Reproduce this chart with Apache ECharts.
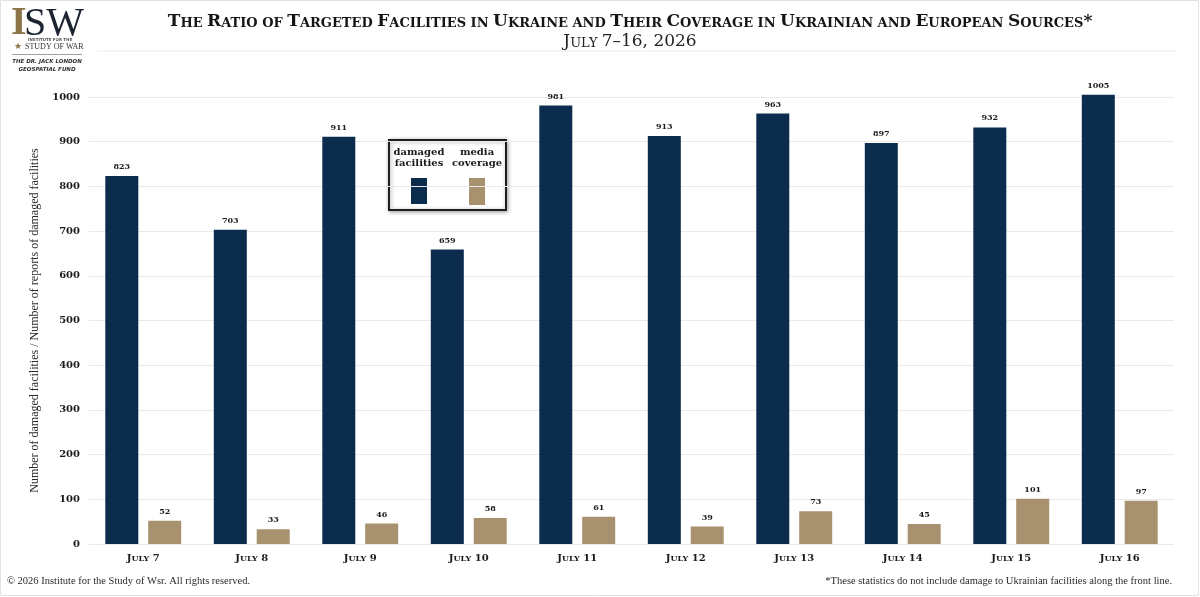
<!DOCTYPE html>
<html>
<head>
<meta charset="utf-8">
<script src="https://cdn.jsdelivr.net/npm/echarts@6/dist/echarts.min.js"></script>
<style>
  html, body { margin: 0; padding: 0; background: #fff; }
  #chart { width: 1200px; height: 597px; }
</style>
</head>
<body>
<div id="chart"></div>
<script>
// data
var days = ['July 7', 'July 8', 'July 9', 'July 10', 'July 11', 'July 12', 'July 13', 'July 14', 'July 15', 'July 16'];
var damagedFacilities = [823, 703, 911, 659, 981, 913, 963, 897, 932, 1005];
var mediaCoverage = [52, 33, 46, 58, 61, 39, 73, 45, 101, 97];
var yTicks = [0, 100, 200, 300, 400, 500, 600, 700, 800, 900, 1000];

var NAVY = '#0c2c4d';
var TAN = '#a8916f';
var SERIF = '"DejaVu Serif", "Liberation Serif", serif';
var TIMES = '"Liberation Serif", serif';

// turn "The Ratio of" into rich-text small caps: capitals big, lower case letters small
function smallCaps(str) {
    var out = '';
    var cur = null, buf = '';
    for (var i = 0; i < str.length; i++) {
        var ch = str[i];
        var kind = (ch >= 'a' && ch <= 'z') ? 's' : (ch === ' ' ? cur || 'b' : 'b');
        if (kind !== cur && buf) {
            out += '{' + cur + '|' + buf + '}';
            buf = '';
        }
        cur = kind;
        buf += kind === 's' ? ch.toUpperCase() : ch;
    }
    if (buf) out += '{' + cur + '|' + buf + '}';
    return out;
}

var chartDom = document.getElementById('chart');
var myChart = echarts.init(chartDom);
var option;

option = {
    backgroundColor: '#fff',
    animation: false,
    title: [
        {
            text: smallCaps('The Ratio of Targeted Facilities in Ukraine and Their Coverage in Ukrainian and European Sources*'),
            left: 625,
            top: 3,
            textAlign: 'center',
            textStyle: {
                rich: {
                    b: { fontFamily: SERIF, fontWeight: 'bold', fontSize: 17, color: '#151515', verticalAlign: 'bottom', lineHeight: 22 },
                    s: { fontFamily: SERIF, fontWeight: 'bold', fontSize: 13, color: '#151515', verticalAlign: 'bottom', lineHeight: 22 }
                }
            }
        },
        {
            text: smallCaps('July 7–16, 2026'),
            left: 625,
            top: 23,
            textAlign: 'center',
            textStyle: {
                rich: {
                    b: { fontFamily: SERIF, fontWeight: 'normal', fontSize: 17, color: '#222', verticalAlign: 'bottom', lineHeight: 22 },
                    s: { fontFamily: SERIF, fontWeight: 'normal', fontSize: 13, color: '#222', verticalAlign: 'bottom', lineHeight: 22 }
                }
            }
        }
    ],
    grid: {
        left: 89,
        right: 26,
        top: 97,
        bottom: 53,
        containLabel: false
    },
    xAxis: {
        type: 'category',
        data: days,
        axisLine: { show: false },
        axisTick: { show: false },
        axisLabel: {
            interval: 0,
            margin: 7,
            formatter: function (v) {
                var num = v.split(' ')[1];
                return '{b|J}{s|ULY}{b| ' + num + '}';
            },
            rich: {
                b: { fontFamily: SERIF, fontWeight: 'bold', fontSize: 10, color: '#1a1a1a', verticalAlign: 'bottom', lineHeight: 12 },
                s: { fontFamily: SERIF, fontWeight: 'bold', fontSize: 8, color: '#1a1a1a', verticalAlign: 'bottom', lineHeight: 12 }
            }
        }
    },
    yAxis: {
        type: 'value',
        min: yTicks[0],
        max: yTicks[yTicks.length - 1],
        interval: 100,
        name: 'Number of damaged facilities / Number of reports of damaged facilities',
        nameLocation: 'middle',
        nameGap: 45,
        nameTextStyle: { fontFamily: TIMES, fontSize: 12, color: '#2a2a2a' },
        axisLine: { show: false },
        axisTick: { show: false },
        axisLabel: {
            margin: 9,
            formatter: function (v) { return String(v); },
            fontFamily: SERIF,
            fontWeight: 'bold',
            fontSize: 10,
            color: '#1a1a1a'
        },
        splitLine: { lineStyle: { color: '#e9e9e9', width: 1 } }
    },
    series: [
        {
            name: 'damaged facilities',
            type: 'bar',
            data: damagedFacilities,
            barWidth: 33,
            barGap: '30%',
            clip: false,
            itemStyle: { color: NAVY },
            label: {
                show: true,
                position: 'top',
                distance: 5,
                fontFamily: SERIF,
                fontWeight: 'bold',
                fontSize: 8,
                color: '#1a1a1a'
            }
        },
        {
            name: 'media coverage',
            type: 'bar',
            data: mediaCoverage,
            barWidth: 33,
            clip: false,
            itemStyle: { color: TAN },
            label: {
                show: true,
                position: 'top',
                distance: 5,
                fontFamily: SERIF,
                fontWeight: 'bold',
                fontSize: 8,
                color: '#1a1a1a'
            }
        }
    ],
    graphic: [
        // frame and header rule
        { type: 'rect', shape: { x: 0.5, y: 0.5, width: 1198, height: 595 }, style: { fill: 'none', stroke: '#e2e2e2', lineWidth: 1 }, silent: true },
        { type: 'line', shape: { x1: 97, y1: 51, x2: 1177, y2: 51 }, style: { stroke: '#ececec', lineWidth: 1 }, silent: true },
        // ISW logo
        { type: 'text', left: 11, top: 4, style: { text: 'I', font: 'bold 40px "Liberation Serif", serif', fill: '#8b7549' } },
        { type: 'text', left: 24, top: 4, style: { text: 'SW', font: '40px "Liberation Serif", serif', fill: '#1c2331' } },
        { type: 'text', left: 28, top: 38, style: { text: 'INSTITUTE FOR THE', font: 'bold 4px "DejaVu Sans", sans-serif', fill: '#555' } },
        { type: 'text', left: 14, top: 42, style: { text: '★', font: '9px "DejaVu Sans", sans-serif', fill: '#8b7549' } },
        { type: 'text', left: 25, top: 43, style: { text: 'STUDY OF WAR', font: '8px "Liberation Serif", serif', fill: '#333' } },
        { type: 'line', shape: { x1: 12, y1: 54.5, x2: 82, y2: 54.5 }, style: { stroke: '#a0a0a0', lineWidth: 1 } },
        { type: 'text', x: 47, y: 59, style: { text: 'THE DR. JACK LONDON', align: 'center', font: 'italic bold 5.5px "DejaVu Sans", sans-serif', fill: '#333' } },
        { type: 'text', x: 47, y: 67, style: { text: 'GEOSPATIAL FUND', align: 'center', font: 'italic bold 5.5px "DejaVu Sans", sans-serif', fill: '#333' } },
        // legend box
        {
            type: 'rect',
            shape: { x: 389, y: 140, width: 117, height: 70 },
            style: { fill: '#fff', stroke: '#1e1e1e', lineWidth: 2, shadowBlur: 4, shadowColor: 'rgba(0,0,0,0.35)', shadowOffsetX: 1, shadowOffsetY: 1 }
        },
        { type: 'text', x: 419, y: 147, style: { text: 'damaged\nfacilities', align: 'center', lineHeight: 11, font: 'bold 10px "DejaVu Serif", serif', fill: '#1a1a1a' } },
        { type: 'text', x: 477, y: 147, style: { text: 'media\ncoverage', align: 'center', lineHeight: 11, font: 'bold 10px "DejaVu Serif", serif', fill: '#1a1a1a' } },
        { type: 'rect', shape: { x: 411, y: 178, width: 16, height: 26 }, style: { fill: NAVY } },
        { type: 'rect', shape: { x: 469, y: 178, width: 16, height: 27 }, style: { fill: TAN } },
        // footer
        { type: 'text', left: 7, top: 576, style: { text: '© 2026 Institute for the Study of Wsr. All rights reserved.', font: '10.5px "Liberation Serif", serif', fill: '#2a2a2a' } },
        { type: 'text', right: 28, top: 576, style: { text: '*These statistics do not include damage to Ukrainian facilities along the front line.', font: '10.5px "Liberation Serif", serif', fill: '#2a2a2a' } }
    ]
};

option && myChart.setOption(option);
</script>
</body>
</html>
